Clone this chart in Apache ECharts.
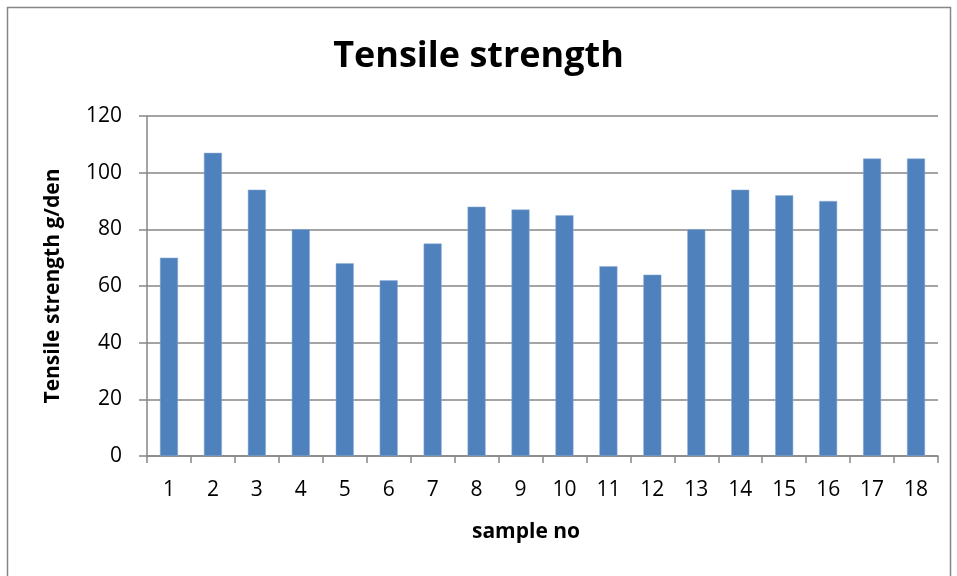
<!DOCTYPE html>
<html><head><meta charset="utf-8">
<script src="https://cdn.jsdelivr.net/npm/echarts@6/dist/echarts.min.js"></script>
<style>html,body{margin:0;padding:0;background:#fff}#c{width:957px;height:576px}</style>
</head><body><div id="c"></div>
<script>
const categories = ['1','2','3','4','5','6','7','8','9','10','11','12','13','14','15','16','17','18'];
const values = [70,107,94,80,68,62,75,88,87,85,67,64,80,94,92,90,105,105];
const yTicks = [0,20,40,60,80,100,120];
const chart = echarts.init(document.getElementById('c'));
const font = '"Open Sans", "Noto Sans", sans-serif';
chart.setOption({
  animation:false,
  backgroundColor:'#fff',
  title:{text:'Tensile strength',left:'center',top:34,textStyle:{fontFamily:font,fontSize:36,fontWeight:'bold',color:'#000'}},
  grid:{left:147,right:19,top:116,bottom:120,containLabel:false},
  graphic:[
    {type:'rect',shape:{x:7.5,y:7.5,width:943,height:600},style:{fill:'none',stroke:'#868686',lineWidth:1.5}},
    {type:'text',x:526,y:532,style:{text:'sample no',font:'bold 21px '+font,fill:'#000',align:'center',verticalAlign:'middle'}}
  ],
  xAxis:{type:'category',data:categories,
    axisLine:{lineStyle:{color:'#868686',width:1.5}},
    axisTick:{show:true,length:7,lineStyle:{color:'#868686',width:1.5},alignWithLabel:false},
    axisLabel:{fontFamily:font,fontSize:21,color:'#000',margin:24}},
  yAxis:{type:'value',min:0,max:120,interval:20,
    name:'Tensile strength g/den',nameLocation:'middle',nameGap:83,nameTextStyle:{fontFamily:font,fontSize:21,fontWeight:'bold',color:'#000'},
    axisLine:{show:true,lineStyle:{color:'#868686',width:1.5}},
    axisTick:{show:true,length:8,lineStyle:{color:'#868686',width:1.5}},
    splitLine:{lineStyle:{color:'#868686',width:1.5}},
    axisLabel:{fontFamily:font,fontSize:21,color:'#000',margin:25,
      formatter:v=>yTicks.includes(v)?String(v):''}},
  series:[{type:'bar',data:values,barWidth:18,itemStyle:{color:'#4f81bd',borderColor:'#8eaed8',borderWidth:0.5}}]
});
</script></body></html>
